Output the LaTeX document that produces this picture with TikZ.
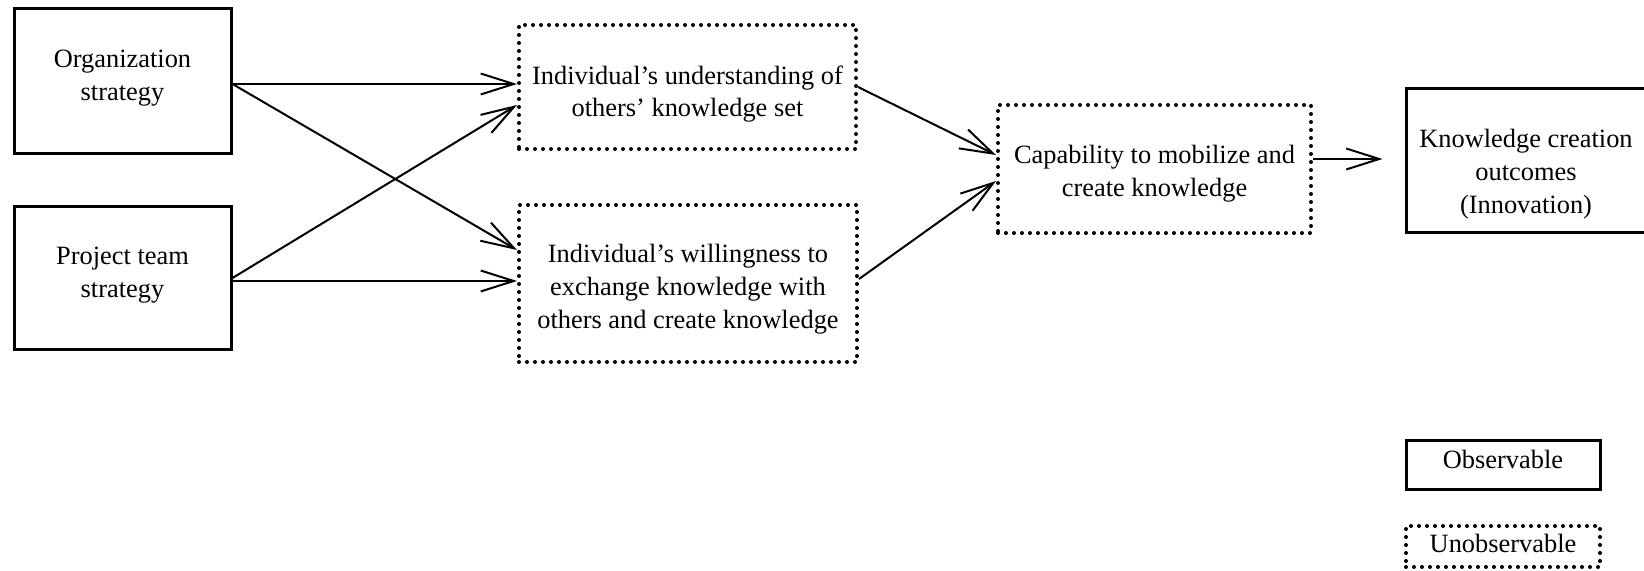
\documentclass[tikz,border=0pt]{standalone}
\usepackage{fontspec}
\setmainfont{Liberation Serif}
\usetikzlibrary{arrows.meta}
\begin{document}
\begin{tikzpicture}[x=0.5pt,y=-0.5pt,
  boxtext/.style={inner sep=0pt, align=center, font=\fontsize{13.2}{16.4}\selectfont},
  solidbox/.style={draw, line width=1.5pt, inner sep=0pt},
  dotbox/.style={draw, line width=2pt, dash pattern=on 0pt off 4pt, line cap=round, inner sep=0pt},
  arr/.style={line width=1pt, -{Straight Barb[length=16.5pt,width=10.5pt]}}]
\useasboundingbox (0,0) rectangle (1644,571);
\node[solidbox, minimum width=108.5pt, minimum height=72.5pt] (b1) at (122.5,81.5) {};
\node[boxtext] (b1t) at (122.5,78.5) {Organization\\strategy};
\node[solidbox, minimum width=108.5pt, minimum height=71.5pt] (b2) at (122.5,278.5) {};
\node[boxtext] (b2t) at (122.5,275.5) {Project team\\strategy};
\node[dotbox, minimum width=168.5pt, minimum height=62pt] (b3) at (687.5,87) {};
\node[boxtext] (b3t) at (687.5,94) {Individual's understanding of\\others' knowledge set};
\node[dotbox, minimum width=169pt, minimum height=78.5pt] (b4) at (688,283.5) {};
\node[boxtext] (b4t) at (688,289) {Individual's willingness to\\exchange knowledge with\\others and create knowledge};
\node[dotbox, minimum width=156.5pt, minimum height=64pt] (b5) at (1154.5,169) {};
\node[boxtext] (b5t) at (1154.5,174) {Capability to mobilize and\\create knowledge};
\node[solidbox, minimum width=121pt, minimum height=72pt] (b6) at (1527,161) {};
\node[boxtext] (b6t) at (1526,174) {Knowledge creation\\outcomes\\(Innovation)};
\node[solidbox, minimum width=97pt, minimum height=24.5pt] (obs) at (1503,465.5) {};
\node[boxtext] (obst) at (1503,459.5) {Observable};
\node[dotbox, minimum width=97pt, minimum height=20.5pt] (unobs) at (1503,546.5) {};
\node[boxtext] (unobst) at (1503,543.5) {Unobservable};
\draw[arr] (b1.east |- 0,84) -- (b3.west |- 0,84);
\draw[arr] (b1.east |- 0,84) -- (b4.west |- 0,250);
\draw[arr] (b2.east |- 0,278) -- (b3.west |- 0,105);
\draw[arr] (b2.east |- 0,281) -- (b4.west |- 0,281);
\draw[arr] (b3.east |- 0,87) -- (b5.west |- 0,155);
\draw[arr] (b4.east |- 0,279) -- (b5.west |- 0,181);
\draw[arr, shorten >=11pt] (b5.east |- 0,159) -- (b6.west |- 0,159);
\end{tikzpicture}
\end{document}
